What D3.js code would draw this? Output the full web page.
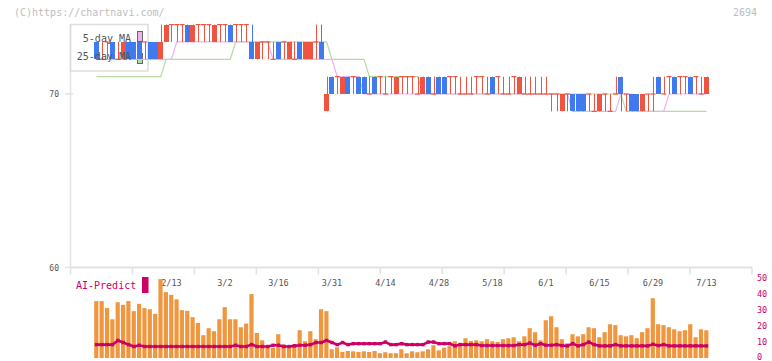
<!DOCTYPE html>
<html><head><meta charset="utf-8">
<script src="https://cdn.jsdelivr.net/npm/d3@7"></script>
<style>html,body{margin:0;padding:0;background:#fff;}svg{display:block;}</style>
</head><body>
<svg id="c" width="772" height="361"></svg>
<script>
// ---- data (one entry per trading day, 2026-01-23 .. 2026-07-13) ----
const openP  = [73,72,73,73,72,72,73,73,73,73,73,73,72,73,74,74,74,74,73,74,74,74,73,74,74,74,74,74,74,73,72,73,73,72,73,73,72,72,73,72,72,73,73,69,71,71,70,71,71,71,71,70,71,71,70,71,70,71,71,71,70,70,71,70,71,71,71,71,70,70,70,71,71,70,71,71,70,70,71,70,70,70,70,70,70,70,70,69,70,70,70,70,70,69,69,70,69,70,71,70,70,70,69,70,70,71,70,71,71,71,71,71,71,70,70];
const highP  = [73,73,73,73,73,73,73,73,73,73,73,73,74,74,74,74,74,74,74,74,74,74,74,74,74,74,74,74,74,74,73,73,73,73,73,73,73,73,73,73,73,74,74,71,71,71,71,71,71,71,71,71,71,71,71,71,71,71,71,71,71,71,71,71,71,71,71,71,71,71,71,71,71,71,71,71,71,71,71,71,71,71,71,71,71,70,70,70,70,70,70,70,70,70,70,70,70,71,71,70,70,70,70,70,71,71,71,71,71,71,71,71,71,71,71];
const lowP   = [72,72,72,72,72,72,72,72,72,72,72,72,72,73,73,73,73,73,73,73,73,73,73,73,73,73,73,73,73,72,72,72,72,72,72,72,72,72,72,72,72,72,72,69,70,70,70,70,70,70,70,70,70,70,70,70,70,70,70,70,70,70,70,70,70,70,70,70,70,70,70,70,70,70,70,70,70,70,70,70,70,70,70,70,70,69,69,69,69,69,69,69,69,69,69,69,69,70,69,69,69,69,69,69,69,70,70,70,70,70,70,70,70,70,70];
const closeP = [72,72,73,72,72,73,72,72,72,73,72,72,73,74,74,74,74,73,74,74,74,74,74,74,74,73,74,74,74,72,73,73,73,72,72,73,73,72,72,73,73,73,72,70,70,71,71,70,71,70,70,70,70,71,70,71,71,71,71,71,70,71,70,70,70,70,71,71,70,70,70,71,71,70,70,71,70,70,71,71,70,70,70,70,70,70,70,70,70,69,69,69,70,69,70,70,69,70,70,70,69,69,70,70,70,70,70,71,70,71,71,70,71,70,71];
const ma5    = [72,72,72,72,72,72,72,72,72,72,72,72,72,72,72,73,73,73,73,73,73,73,73,73,73,73,73,73,73,73,73,73,73,72,72,72,72,72,72,72,72,72,72,72,72,71,71,71,71,71,70,70,70,70,70,70,70,70,70,70,70,70,70,70,70,70,70,70,70,70,70,70,70,70,70,70,70,70,70,70,70,70,70,70,70,70,70,70,70,69,69,69,69,69,69,69,69,69,70,70,70,69,69,69,69,69,69,70,70,70,70,70,70,70,70];
const ma25   = [71,71,71,71,71,71,71,71,71,71,71,71,71,72,72,72,72,72,72,72,72,72,72,72,72,72,73,73,73,73,73,73,73,73,73,73,73,73,73,73,73,73,73,73,72,72,72,72,72,72,72,71,71,71,71,71,71,71,71,71,71,70,70,70,70,70,70,70,70,70,70,70,70,70,70,70,70,70,70,70,70,70,70,70,70,70,70,70,70,70,70,70,70,70,70,70,70,70,70,69,69,69,69,69,69,69,69,69,69,69,69,69,69,69,69];
const volume = [35.7,35.7,31.4,24.3,35.0,33.3,35.7,29.4,34.0,31.3,30.6,27.7,49.5,41.3,39.6,36.8,30.0,29.6,25.6,22.0,14.3,18.7,16.8,24.3,31.9,24.3,24.3,19.3,21.6,40.1,15.7,11.1,6.5,6.5,14.9,8.6,6.5,8.6,17.4,10.5,16.8,11.8,30.6,29.4,5.5,6.7,3.8,4.4,4.2,3.8,4.2,3.8,4.4,3.0,3.6,3.0,3.0,5.5,3.0,4.2,3.6,4.2,5.5,8.0,4.8,6.5,7.4,10.5,9.5,12.4,10.7,11.1,10.5,11.8,10.5,10.1,11.8,12.4,13.0,10.5,13.6,18.7,16.2,11.1,23.7,26.2,19.3,11.8,9.2,14.9,13.6,14.9,19.3,18.7,13.0,16.2,21.2,20.6,14.3,13.6,14.3,12.4,16.2,18.7,37.5,21.2,20.6,19.3,18.0,16.8,17.4,21.2,13.0,18.0,17.4];
const aiPredict = [8.4,8.4,8.4,8.4,11.0,9.7,8.4,7.2,8.0,7.2,7.2,7.2,7.2,7.2,7.2,7.2,7.2,7.2,7.2,7.2,7.2,7.2,7.2,7.2,7.2,7.2,8.0,7.2,7.2,8.4,7.2,7.2,7.2,8.0,8.0,7.2,7.2,7.6,8.0,8.0,8.4,9.7,9.7,11.0,9.7,8.4,9.7,8.4,9.0,9.0,9.0,9.0,9.0,9.0,10.0,8.4,8.4,9.0,8.4,8.4,8.4,8.4,10.0,10.0,9.0,9.0,9.0,7.6,8.4,8.4,8.4,8.4,7.8,7.8,7.8,7.8,7.8,7.8,7.8,8.4,8.4,9.4,8.0,9.0,8.0,8.0,8.4,7.8,7.6,9.0,7.6,8.4,10.0,8.4,7.6,7.6,7.6,8.4,7.6,7.6,7.6,7.6,7.6,7.6,8.6,7.8,8.4,7.6,7.6,7.6,7.6,7.6,7.6,7.6,7.6];
const tickIndex  = [14,24,34,44,54,64,74,84,94,104,114];
const tickLabels = ["2/13","3/2","3/16","3/31","4/14","4/28","5/18","6/1","6/15","6/29","7/13"];
const priceTicks = [60,70];
const volTicks   = [0,10,20,30,40,50];

// ---- chart ----
const svg = d3.select("#c");
const MONO = "'DejaVu Sans Mono', monospace";
const RED = "#f05340", BLUE = "#407af0", ORANGE = "#f0963e", MAG = "#cc0066";
const GRID = "#e2e2e2";

const n = closeP.length;
const x  = d3.scaleLinear().domain([0, n - 1]).range([96.5, 706.5]);
const y  = d3.scaleLinear().domain([60, 74]).range([267.5, 24.6]);
const yv = d3.scaleLinear().domain([0, 50]).range([358, 278.3]);
const gx = d3.scaleLinear().domain([0, 11]).range([70.5, 752]);

// header texts
svg.append("text").attr("x", 14).attr("y", 16).attr("font-family", MONO).attr("font-size", 10)
  .attr("fill", "#bdbdbd").text("(C)https://chartnavi.com/");
svg.append("text").attr("x", 757).attr("y", 16).attr("text-anchor", "end").attr("font-family", MONO)
  .attr("font-size", 10).attr("fill", "#bdbdbd").text("2694");

// axes
svg.append("line").attr("x1", 70.5).attr("x2", 70.5).attr("y1", y(74)).attr("y2", y(60))
  .attr("stroke", GRID).attr("stroke-width", 1.5);
svg.append("line").attr("x1", 70).attr("x2", 752).attr("y1", y(60)).attr("y2", y(60))
  .attr("stroke", GRID).attr("stroke-width", 2);
svg.selectAll(".gt").data(d3.range(12)).join("line")
  .attr("x1", d => gx(d)).attr("x2", d => gx(d)).attr("y1", y(60)).attr("y2", y(60) + 7)
  .attr("stroke", GRID).attr("stroke-width", 1.5);
svg.selectAll(".pt").data(priceTicks).join("line")
  .attr("x1", 65).attr("x2", 73).attr("y1", d => y(d)).attr("y2", d => y(d))
  .attr("stroke", GRID).attr("stroke-width", 1.5);
svg.selectAll(".pl").data(priceTicks).join("text")
  .attr("x", 59).attr("y", d => y(d) + 3).attr("text-anchor", "end")
  .attr("font-family", MONO).attr("font-size", 8).attr("fill", "#555").text(d => d);

// legend box (under candles)
svg.append("rect").attr("x", 70.5).attr("y", 24.5).attr("width", 77.5).attr("height", 46.5)
  .attr("fill", "none").attr("stroke", "#dddddd").attr("stroke-width", 1.5);
svg.append("rect").attr("x", 137.5).attr("y", 31.5).attr("width", 5).attr("height", 10)
  .attr("fill", "#ebb5eb").attr("stroke", "#666").attr("stroke-width", 1);
svg.append("rect").attr("x", 137.5).attr("y", 53.5).attr("width", 5).attr("height", 10)
  .attr("fill", "#b5dba5").attr("stroke", "#666").attr("stroke-width", 1);

// moving averages
const maLine = d3.line().x((d, i) => x(i)).y(d => y(d));
svg.append("path").datum(ma25).attr("d", maLine).attr("fill", "none").attr("stroke", "#b5dba5").attr("stroke-width", 1.2);
svg.append("path").datum(ma5).attr("d", maLine).attr("fill", "none").attr("stroke", "#ebb5eb").attr("stroke-width", 1.2);

// candles
const candles = d3.range(n).map(i => ({i, o: openP[i], h: highP[i], l: lowP[i], c: closeP[i]}));
const col = d => d.c < d.o ? BLUE : RED;
const cg = svg.append("g");
cg.selectAll(".wick").data(candles).join("line")
  .attr("x1", d => Math.round(x(d.i)) + 0.5).attr("x2", d => Math.round(x(d.i)) + 0.5)
  .attr("y1", d => y(d.h)).attr("y2", d => y(d.l))
  .attr("stroke", col).attr("stroke-width", 1);
cg.selectAll(".body").data(candles.filter(d => d.o !== d.c)).join("rect")
  .attr("x", d => x(d.i) - 2.5).attr("width", 5)
  .attr("y", d => y(Math.max(d.o, d.c))).attr("height", d => y(Math.min(d.o, d.c)) - y(Math.max(d.o, d.c)))
  .attr("fill", col).attr("shape-rendering", "crispEdges");
cg.selectAll(".doji").data(candles.filter(d => d.o === d.c)).join("line")
  .attr("x1", d => x(d.i) - 2.5).attr("x2", d => x(d.i) + 2.5)
  .attr("y1", d => y(d.o)).attr("y2", d => y(d.o))
  .attr("stroke", RED).attr("stroke-width", 1.2);

// legend texts
svg.append("text").attr("x", 131).attr("y", 42).attr("text-anchor", "end").attr("font-family", MONO)
  .attr("font-size", 10).attr("fill", "#555").text("5-day MA");
svg.append("text").attr("x", 131).attr("y", 60).attr("text-anchor", "end").attr("font-family", MONO)
  .attr("font-size", 10).attr("fill", "#555").text("25-day MA");

// x labels
svg.selectAll(".xl").data(tickIndex).join("text")
  .attr("x", d => x(d)).attr("y", 286).attr("text-anchor", "middle")
  .attr("font-family", MONO).attr("font-size", 8.5).attr("fill", "#555")
  .text((d, k) => tickLabels[k]);

// volume bars
svg.selectAll(".vb").data(volume).join("rect")
  .attr("x", (d, i) => x(i) - 2.3).attr("width", 4.2)
  .attr("y", d => yv(d)).attr("height", d => yv(0) - yv(d))
  .attr("fill", ORANGE);

// AI predict line
svg.append("path").datum(aiPredict)
  .attr("d", d3.line().x((d, i) => x(i)).y(d => yv(d)))
  .attr("fill", "none").attr("stroke", MAG).attr("stroke-width", 2.6);
svg.selectAll(".am").data(aiPredict).join("rect")
  .attr("x", (d, i) => x(i) - 1.7).attr("y", d => yv(d) - 1.7).attr("width", 3.4).attr("height", 3.4)
  .attr("fill", MAG);

svg.append("text").attr("x", 76).attr("y", 289).attr("font-family", MONO).attr("font-size", 10)
  .attr("fill", MAG).text("AI-Predict");
svg.append("rect").attr("x", 142).attr("y", 277).attr("width", 6.5).attr("height", 16).attr("fill", MAG);

svg.selectAll(".vl").data(volTicks).join("text")
  .attr("x", 757).attr("y", d => Math.min(yv(d) + 3, 359.5)).attr("font-family", MONO).attr("font-size", 8.5)
  .attr("fill", MAG).text(d => d);
</script>
</body></html>
